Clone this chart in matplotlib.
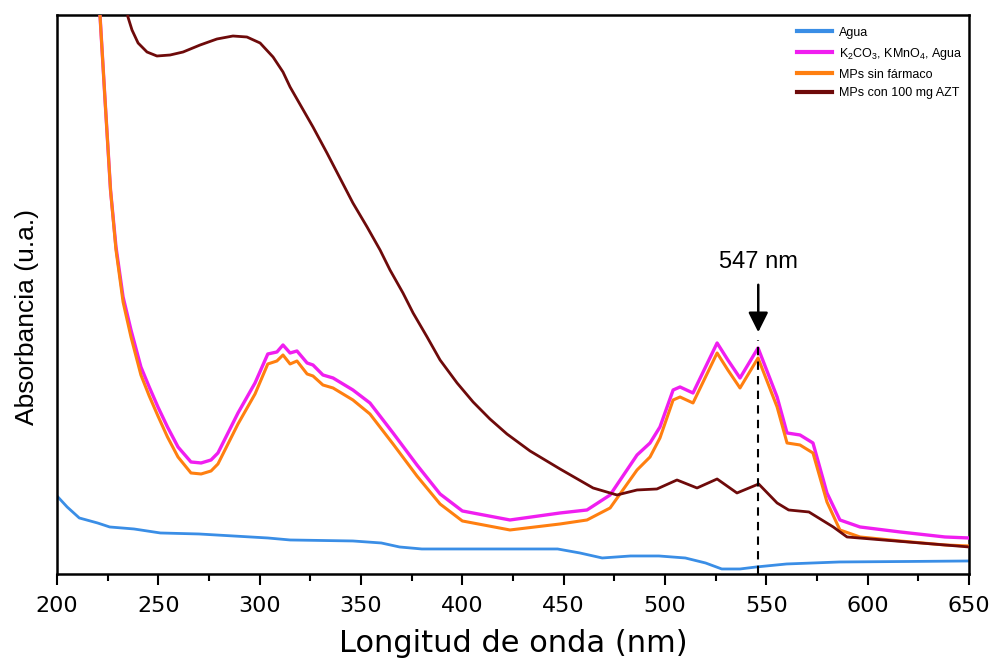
import matplotlib
matplotlib.use("Agg")
import matplotlib.pyplot as plt
from matplotlib.ticker import MultipleLocator

plt.rcParams["mathtext.fontset"] = "custom"
plt.rcParams["mathtext.rm"] = "Liberation Sans"
plt.rcParams["mathtext.it"] = "Liberation Sans:italic"

# Agua
agua_nm = [200, 205, 211, 220, 226, 238, 251, 270, 304, 315, 346, 360, 369, 380,
           400, 447, 458, 469, 483, 497, 510, 520, 528, 537, 545, 560, 586, 620, 650]
agua_abs = [0.78, 0.67, 0.56, 0.51, 0.47, 0.45, 0.41, 0.40, 0.36, 0.34, 0.33, 0.31,
            0.27, 0.25, 0.25, 0.25, 0.21, 0.16, 0.18, 0.18, 0.16, 0.11, 0.05, 0.05,
            0.07, 0.10, 0.12, 0.125, 0.13]

# K2CO3, KMnO4, Agua
kmn_nm = [218, 221.2, 223.7, 226.4, 229.1, 232.6, 236.5, 241.4, 245.5, 249.8, 254.5,
          259.7, 266.1, 271.1, 276, 279.4, 289.3, 297.7, 304, 308.5, 311.5, 315,
          318.4, 323.4, 326.3, 331.2, 336.2, 346, 354.4, 365.8, 377.6, 389, 400,
          423.5, 448.2, 461.5, 472.9, 486.2, 492.6, 497.5, 504, 507.4, 513.8, 525.7,
          531, 537, 545.9, 555.3, 560.2, 566.6, 573, 579.9, 586.3, 596.2, 616,
          638.1, 650]
kmn_abs = [6.60, 5.59, 4.74, 3.84, 3.27, 2.77, 2.44, 2.07, 1.87, 1.67, 1.47,
           1.27, 1.12, 1.11, 1.14, 1.21, 1.61, 1.91, 2.20, 2.22, 2.29, 2.21,
           2.23, 2.11, 2.09, 1.99, 1.96, 1.84, 1.71, 1.41, 1.09, 0.80, 0.63,
           0.54, 0.61, 0.64, 0.79, 1.19, 1.31, 1.47, 1.84, 1.87, 1.81, 2.31,
           2.14, 1.96, 2.26, 1.77, 1.41, 1.39, 1.31, 0.81, 0.54, 0.47, 0.42,
           0.37, 0.36]

# MPs sin fármaco
mps_nm = kmn_nm
mps_abs = [6.60, 5.59, 4.74, 3.84, 3.24, 2.72, 2.37, 1.99, 1.78, 1.58, 1.37,
           1.17, 1.01, 1.00, 1.03, 1.10, 1.50, 1.80, 2.10, 2.13, 2.19, 2.10,
           2.13, 2.00, 1.98, 1.89, 1.86, 1.74, 1.60, 1.30, 0.98, 0.70, 0.53,
           0.44, 0.50, 0.54, 0.66, 1.04, 1.17, 1.36, 1.74, 1.77, 1.71, 2.21,
           2.04, 1.86, 2.16, 1.67, 1.31, 1.29, 1.21, 0.72, 0.44, 0.37, 0.33,
           0.29, 0.28]

# MPs con 100 mg AZT
azt_nm = [233.5, 235.0, 237.0, 240.0, 244.4, 249.3, 255.8, 262.2, 270.6, 278.9,
          286.8, 293.7, 300.2, 306.6, 311.5, 315.0, 326.3, 333.2, 339.6, 346.0,
          353.0, 359.4, 364.3, 370.7, 375.7, 382.6, 389.0, 397.4, 405.3, 413.6,
          422.0, 433.4, 448.2, 464.5, 476.3, 486.2, 496, 505.9, 515.8, 525.7,
          535.5, 546.2, 555.3, 561, 571, 583, 589.8, 607.6, 638.1, 650]
azt_abs = [5.90, 5.57, 5.44, 5.31, 5.22, 5.18, 5.19, 5.22, 5.29, 5.35,
           5.38, 5.37, 5.31, 5.17, 5.02, 4.87, 4.47, 4.21, 3.96, 3.71,
           3.47, 3.24, 3.04, 2.81, 2.61, 2.37, 2.14, 1.91, 1.72, 1.55,
           1.40, 1.23, 1.05, 0.86, 0.79, 0.84, 0.85, 0.94, 0.86, 0.95,
           0.81, 0.90, 0.71, 0.64, 0.62, 0.47, 0.37, 0.34, 0.29, 0.27]

peak_nm = 546
peak_label = "547 nm"

fig = plt.figure(figsize=(9.95, 6.58), dpi=100)
ax = fig.add_axes([0.0573, 0.1277, 0.9166, 0.8495])

ax.plot(agua_nm, agua_abs, color="#3a8ee6", lw=2.0, label="Agua", zorder=2)
ax.plot(kmn_nm, kmn_abs, color="#f01ef0", lw=2.4,
        label=r"K$_2$CO$_3$, KMnO$_4$, Agua", zorder=3)
ax.plot(mps_nm, mps_abs, color="#ff7f10", lw=2.2, label="MPs sin fármaco", zorder=4)
ax.plot(azt_nm, azt_abs, color="#6e0a0a", lw=2.0, label="MPs con 100 mg AZT", zorder=5)

ax.set_xlim(200, 650)
ax.set_ylim(0, 5.59)

# peak marker
ax.vlines(peak_nm, 0, 2.34, colors="black", linestyles=(0, (4, 3)), lw=1.5, zorder=6)
ax.annotate("", xy=(peak_nm, 2.39), xytext=(peak_nm, 2.92),
            arrowprops=dict(arrowstyle="-|>,head_length=0.6,head_width=0.3",
                            color="black", lw=1.8, mutation_scale=20))
ax.text(peak_nm, 3.12, peak_label, ha="center", va="center", fontsize=17,
        family="Liberation Sans")

ax.xaxis.set_major_locator(MultipleLocator(50))
ax.xaxis.set_minor_locator(MultipleLocator(25))
ax.tick_params(axis="x", which="major", direction="out", length=8, width=1.5,
               labelsize=16, pad=8)
ax.tick_params(axis="x", which="minor", direction="out", length=5, width=1.5)
ax.set_yticks([])
for sp in ax.spines.values():
    sp.set_linewidth(1.8)

ax.set_xlabel("Longitud de onda (nm)", fontsize=22, labelpad=9)
ax.set_ylabel("Absorbancia (u.a.)", fontsize=19, family="Liberation Sans", labelpad=13)
ax.yaxis.label.set_y(0.46)

leg = ax.legend(loc="upper left", bbox_to_anchor=(0.805, 0.99), frameon=False,
                prop={"family": "Liberation Sans", "size": 9}, borderpad=0,
                handlelength=2.8, handletextpad=0.5, labelspacing=0.55)
for line in leg.get_lines():
    line.set_linewidth(3)

fig.savefig("out.png", dpi=100)
